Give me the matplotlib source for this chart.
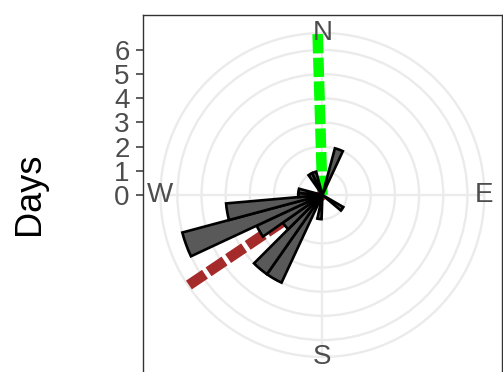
import numpy as np
import matplotlib
matplotlib.use('Agg')
import matplotlib.pyplot as plt
from matplotlib.patches import Wedge, Circle

plt.rcParams['font.family'] = ['Liberation Sans', 'DejaVu Sans']
plt.rcParams['lines.scale_dashes'] = False

# wind rose data: bin centre (compass degrees) and number of days
directions = [20, 330, 340, 125, 187, 210, 220, 230, 240, 250, 260, 270, 280]
days = [2, 1, 1, 1, 1, 4, 4, 2, 3, 6, 4, 1, 1]
bin_width = 10

# mean direction lines (compass degrees)
line_dirs = [358.3, 236]
line_colors = ['#00FF00', '#A52A2A']
line_len = 6.7

ring_breaks = [1, 2, 3, 4, 5, 6]
outer_r = 6.7
compass = ['N', 'E', 'S', 'W']
compass_deg = [0, 90, 180, 270]

W, H = 503, 372
fig = plt.figure(figsize=(W / 100, H / 100), dpi=100)

# panel in pixels: left 143, top 15, size 359 x 360, centre at (322.4, 195)
s = 24.17  # px per day
cx, cy = 322.4, 195
ax = fig.add_axes([143 / W, (H - 375) / H, 359 / W, 360 / H])
ax.set_xlim((143 - cx) / s, (502 - cx) / s)
ax.set_ylim((cy - 375) / s, (cy - 15) / s)

def xy(deg, r):
    t = np.radians(deg)
    return r * np.sin(t), r * np.cos(t)

# grid
grid_kw = dict(color='#EBEBEB', lw=1.7, zorder=0)
for r in ring_breaks + [outer_r]:
    ax.add_patch(Circle((0, 0), r, fill=False, ec='#EBEBEB', lw=1.7, zorder=0))
for d in compass_deg:
    x1, y1 = xy(d, outer_r)
    ax.plot([0, x1], [0, y1], **grid_kw)

# mean direction lines, under the bars
for d, c in zip(line_dirs, line_colors):
    x1, y1 = xy(d, line_len)
    ax.plot([0, x1], [0, y1], color=c, lw=7.6, dashes=(13.9, 3.1),
            solid_capstyle='butt', dash_capstyle='butt', zorder=1)

# bars
for d, n in zip(directions, days):
    t1 = 90 - (d + bin_width / 2)
    t2 = 90 - (d - bin_width / 2)
    ax.add_patch(Wedge((0, 0), n, t1, t2, fc='#595959', ec='black',
                       lw=1.9, joinstyle='miter', zorder=2))

# compass labels
for lab, d in zip(compass, compass_deg):
    x1, y1 = xy(d, outer_r)
    ax.text(x1, y1, lab, ha='center', va='center', fontsize=20,
            color='#4D4D4D', zorder=3)

ax.set_xticks([])
ax.set_yticks(range(7))
ax.set_yticklabels([str(i) for i in range(7)])
ax.tick_params(axis='y', length=5.4, width=1.1, color='#333333',
               labelsize=20, labelcolor='#4D4D4D', pad=4.3)
for sp in ax.spines.values():
    sp.set_color('#333333')
    sp.set_linewidth(1.0)

fig.text(29 / W, 1 - 194 / H, 'Days', rotation=90, ha='center', va='center',
         fontsize=26, color='black')

fig.savefig('out.png', dpi=100)
